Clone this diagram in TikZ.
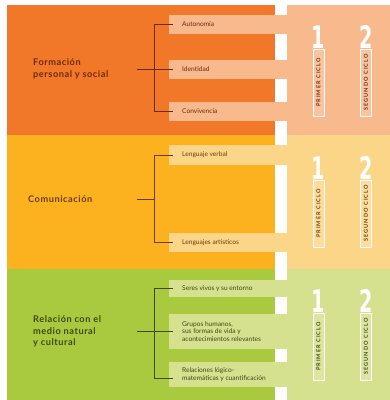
\documentclass[tikz,border=0pt]{standalone}
\usepackage{fontspec}
\setmainfont{Lato}
\newfontfamily\numfont{DejaVu Sans}
\definecolor{oA}{HTML}{F07828}
\definecolor{oL}{HTML}{F8B98C}
\definecolor{oT}{HTML}{6E2A10}
\definecolor{yA}{HTML}{FBB21E}
\definecolor{yL}{HTML}{FCD688}
\definecolor{yT}{HTML}{6E3A0C}
\definecolor{gA}{HTML}{A9C93E}
\definecolor{gL}{HTML}{D5E18E}
\definecolor{gT}{HTML}{3E4A12}
\tikzset{
  barbox/.style={fill=#1, draw=none, inner sep=0pt, minimum width=118pt, anchor=west},
  lab/.style={text=#1, anchor=west, inner sep=0pt, align=left, font={\fontsize{6.6}{7.9}\selectfont}},
  ttl/.style={text=#1, anchor=west, inner sep=0pt, align=left, font={\fontsize{9.2}{11.5}\selectfont\bfseries\addfontfeature{LetterSpace=6}}},
  cyc/.style={draw=white, line width=0.6pt, fill=white, fill opacity=0.18, text opacity=1, rotate=90, minimum width=67pt, minimum height=11pt, inner sep=0pt, text=#1, font={\fontsize{5.5}{6}\selectfont\bfseries\addfontfeature{LetterSpace=20}}},
  num/.style={text=white, anchor=base, inner sep=0pt, font={\fontsize{31}{31}\selectfont\numfont\bfseries}},
  conn/.style={draw=#1, line width=0.9pt},
}
\begin{document}
\begin{tikzpicture}[x=1pt,y=-1pt]
\useasboundingbox (0,0) rectangle (390,400);
\fill[white] (0,0) rectangle (390,400);
% section backgrounds
\fill[oA] (7,5) rectangle (275,135);
\fill[yA] (7,135) rectangle (275,269);
\fill[gA] (7,269) rectangle (275,400);
\fill[oL] (287,5) rectangle (390,135);
\fill[yL] (287,135) rectangle (390,269);
\fill[gL] (287,269) rectangle (390,400);

% ---------- Section 1
\node[barbox=oL, minimum height=19pt] (r11) at (169,24.5) {};
\node[barbox=oL, minimum height=19pt] (r12) at (169,69) {};
\node[barbox=oL, minimum height=19pt] (r13) at (169,111.5) {};
\node[lab=oT] (l11) at (182,24.5) {Autonomía};
\node[lab=oT] (l12) at (182,69) {Identidad};
\node[lab=oT] (l13) at (182,111.5) {Convivencia};
\node[ttl=oT] (t1) at (33,69) {Formación\\personal y social};
\coordinate (s1) at (137,69);
\coordinate (j1) at (154,69);
\draw[conn=oT] (s1) -- (j1);
\draw[conn=oT] (j1) |- ([xshift=-9pt]l11.west);
\draw[conn=oT] (j1) -- ([xshift=-9pt]l12.west);
\draw[conn=oT] (j1) |- ([xshift=-9pt]l13.west);
\node[cyc=oT] (c11) at (318.5,82.5) {PRIMER CICLO};
\node[cyc=oT] (c12) at (366,82.5) {SEGUNDO CICLO};
\node[num] (n11) at (318.5,48) {\scalebox{0.62}[1]{1}};
\node[num] (n12) at (366,48) {\scalebox{0.62}[1]{2}};

% ---------- Section 2
\node[barbox=yL, minimum height=20pt] (r21) at (169,155) {};
\node[barbox=yL, minimum height=19pt] (r22) at (169,242.5) {};
\node[lab=yT] (l21) at (182,155) {Lenguaje verbal};
\node[lab=yT] (l22) at (182,242.5) {Lenguajes artísticos};
\node[ttl=yT] (t2) at (28,199) {Comunicación};
\coordinate (s2) at (137,199);
\coordinate (j2) at (154,199);
\draw[conn=yT] (s2) -- (j2);
\draw[conn=yT] (j2) |- ([xshift=-9pt]l21.west);
\draw[conn=yT] (j2) |- ([xshift=-9pt]l22.west);
\node[cyc=yT] (c21) at (318.5,213.5) {PRIMER CICLO};
\node[cyc=yT] (c22) at (366,213.5) {SEGUNDO CICLO};
\node[num] (n21) at (318.5,179) {\scalebox{0.62}[1]{1}};
\node[num] (n22) at (366,179) {\scalebox{0.62}[1]{2}};

% ---------- Section 3
\node[barbox=gL, minimum height=17pt] (r31) at (169,288.5) {};
\node[barbox=gL, minimum height=35pt] (r32) at (169,331.5) {};
\node[barbox=gL, minimum height=25pt] (r33) at (169,374.5) {};
\node[lab=gT] (l31) at (182,288.5) {Seres vivos y su entorno};
\node[lab=gT] (l32) at (182,331.5) {Grupos humanos,\\sus formas de vida y\\acontecimientos relevantes};
\node[lab=gT] (l33) at (182,374.5) {Relaciones lógico-\\matemáticas y cuantificación};
\node[ttl=gT] (t3) at (33,331.5) {Relación con el\\medio natural\\y cultural};
\coordinate (s3) at (137,331.5);
\coordinate (j3) at (154,331.5);
\coordinate (e33) at (173,378.5);
\draw[conn=gT] (s3) -- (j3);
\draw[conn=gT] (j3) |- ([xshift=-9pt]l31.west);
\draw[conn=gT] (j3) -- ([xshift=-9pt]l32.west);
\draw[conn=gT] (j3) |- (e33);
\node[cyc=gT] (c31) at (318.5,346.5) {PRIMER CICLO};
\node[cyc=gT] (c32) at (366,346.5) {SEGUNDO CICLO};
\node[num] (n31) at (318.5,312) {\scalebox{0.62}[1]{1}};
\node[num] (n32) at (366,312) {\scalebox{0.62}[1]{2}};
\end{tikzpicture}
\end{document}
